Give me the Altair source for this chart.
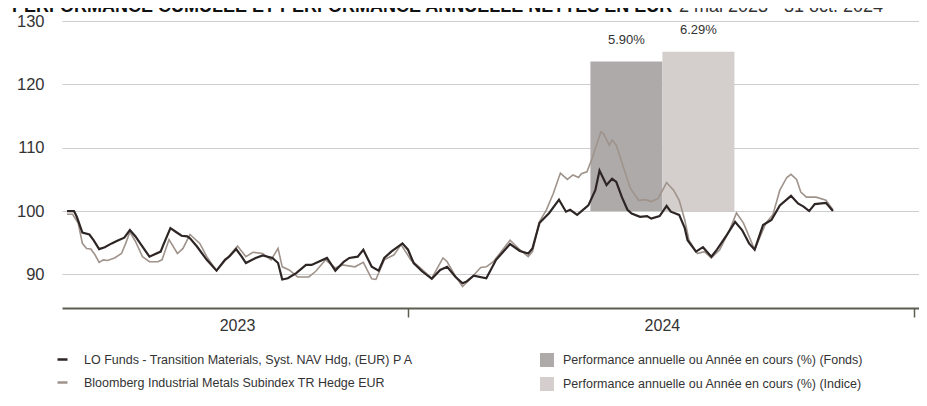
import altair as alt
import pandas as pd

FONT = "Liberation Sans"

FUND_NAME = "LO Funds - Transition Materials, Syst. NAV Hdg, (EUR) P A"
INDEX_NAME = "Bloomberg Industrial Metals Subindex TR Hedge EUR"
BAR_FUND = "Performance annuelle ou Année en cours (%) (Fonds)"
BAR_INDEX = "Performance annuelle ou Année en cours (%) (Indice)"
TITLE_BOLD = "PERFORMANCE CUMULÉE ET PERFORMANCE ANNUELLE NETTES EN EUR"
TITLE_DATES = "2 mai 2023 - 31 oct. 2024"

fund_dates = [
    "2023-05-02", "2023-05-07", "2023-05-09", "2023-05-13", "2023-05-18", "2023-05-21",
    "2023-05-25", "2023-05-29", "2023-06-03", "2023-06-07", "2023-06-12", "2023-06-16",
    "2023-06-20", "2023-06-24", "2023-06-30", "2023-07-03", "2023-07-08", "2023-07-10",
    "2023-07-15", "2023-07-19", "2023-07-23", "2023-07-27", "2023-07-29", "2023-08-03",
    "2023-08-10", "2023-08-17", "2023-08-23", "2023-08-26", "2023-08-31", "2023-09-04",
    "2023-09-07", "2023-09-14", "2023-09-19", "2023-09-26", "2023-09-30", "2023-10-03",
    "2023-10-07", "2023-10-13", "2023-10-20", "2023-10-24", "2023-10-29", "2023-11-04",
    "2023-11-10", "2023-11-16", "2023-11-20", "2023-11-26", "2023-11-30", "2023-12-06",
    "2023-12-11", "2023-12-15", "2023-12-20", "2023-12-28", "2024-01-01", "2024-01-05",
    "2024-01-11", "2024-01-18", "2024-01-24", "2024-01-29", "2024-02-04", "2024-02-09",
    "2024-02-12", "2024-02-17", "2024-02-26", "2024-03-04", "2024-03-14", "2024-03-21",
    "2024-03-27", "2024-03-30", "2024-04-04", "2024-04-11", "2024-04-18", "2024-04-23",
    "2024-04-26", "2024-05-01", "2024-05-09", "2024-05-14", "2024-05-17", "2024-05-22",
    "2024-05-26", "2024-05-29", "2024-06-02", "2024-06-06", "2024-06-09", "2024-06-15",
    "2024-06-20", "2024-06-23", "2024-06-29", "2024-07-04", "2024-07-07", "2024-07-13",
    "2024-07-17", "2024-07-19", "2024-07-25", "2024-07-30", "2024-08-05", "2024-08-09",
    "2024-08-16", "2024-08-22", "2024-08-27", "2024-09-01", "2024-09-05", "2024-09-11",
    "2024-09-17", "2024-09-23", "2024-10-01", "2024-10-06", "2024-10-10", "2024-10-14",
    "2024-10-18", "2024-10-26", "2024-10-31",
]
fund_values = [
    100.0, 100.0, 99.1, 96.6, 96.3, 95.4,
    94.0, 94.3, 94.9, 95.3, 95.8, 97.0,
    96.0, 94.7, 92.8, 93.1, 93.6, 94.7,
    97.3, 96.7, 96.1, 96.0, 95.7, 94.4,
    92.3, 90.6, 92.3, 92.8, 94.0, 92.8,
    91.8, 92.6, 93.0, 92.6, 91.8, 89.2,
    89.4, 90.2, 91.5, 91.5, 92.0, 92.6,
    90.6, 92.0, 92.6, 92.8, 93.9, 91.2,
    90.6, 92.6, 93.6, 94.9, 93.9, 91.8,
    90.5, 89.3, 90.7, 91.2, 89.6, 88.6,
    88.9, 89.8, 89.4, 92.3, 94.8, 93.7,
    93.3, 94.1, 98.1, 99.7, 101.8, 99.9,
    100.2, 99.4, 100.9, 103.3, 106.4, 104.1,
    105.1, 104.6, 102.2, 100.2, 99.6, 99.1,
    99.2, 98.8, 99.2, 100.8, 99.9, 99.4,
    97.3, 95.4, 93.6, 94.3, 92.8, 93.9,
    96.2, 98.3, 97.0, 94.9, 93.9, 97.8,
    98.6, 100.9, 102.4, 101.2, 100.7, 100.0,
    101.1, 101.3, 100.0,
]

index_dates = [
    "2023-05-02", "2023-05-06", "2023-05-10", "2023-05-13", "2023-05-16", "2023-05-19",
    "2023-05-22", "2023-05-25", "2023-05-28", "2023-05-31", "2023-06-05", "2023-06-10",
    "2023-06-13", "2023-06-16", "2023-06-20", "2023-06-25", "2023-06-30", "2023-07-06",
    "2023-07-09", "2023-07-14", "2023-07-20", "2023-07-24", "2023-07-29", "2023-08-05",
    "2023-08-10", "2023-08-17", "2023-08-24", "2023-09-01", "2023-09-07", "2023-09-12",
    "2023-09-19", "2023-09-25", "2023-09-30", "2023-10-03", "2023-10-08", "2023-10-14",
    "2023-10-22", "2023-10-27", "2023-11-03", "2023-11-10", "2023-11-15", "2023-11-24",
    "2023-11-30", "2023-12-06", "2023-12-09", "2023-12-15", "2023-12-22", "2023-12-27",
    "2024-01-03", "2024-01-10", "2024-01-18", "2024-01-26", "2024-01-29", "2024-02-04",
    "2024-02-09", "2024-02-15", "2024-02-22", "2024-02-26", "2024-03-02", "2024-03-14",
    "2024-03-21", "2024-03-27", "2024-03-30", "2024-04-04", "2024-04-09", "2024-04-14",
    "2024-04-19", "2024-04-24", "2024-04-28", "2024-05-02", "2024-05-04", "2024-05-08",
    "2024-05-12", "2024-05-18", "2024-05-20", "2024-05-24", "2024-05-26", "2024-05-29",
    "2024-06-03", "2024-06-08", "2024-06-14", "2024-06-19", "2024-06-23", "2024-06-28",
    "2024-07-04", "2024-07-09", "2024-07-13", "2024-07-17", "2024-07-20", "2024-07-26",
    "2024-07-31", "2024-08-05", "2024-08-11", "2024-08-18", "2024-08-23", "2024-08-28",
    "2024-09-01", "2024-09-05", "2024-09-13", "2024-09-18", "2024-09-23", "2024-09-28",
    "2024-10-01", "2024-10-05", "2024-10-08", "2024-10-12", "2024-10-19", "2024-10-26",
    "2024-10-31",
]
index_values = [
    99.5, 99.5, 98.1, 94.9, 94.1, 94.0,
    93.1, 91.9, 92.3, 92.2, 92.6, 93.3,
    94.9, 96.7, 95.2, 92.8, 92.0, 92.0,
    92.3, 95.5, 93.3, 94.1, 96.3, 94.9,
    92.8, 90.6, 92.4, 94.5, 92.8, 93.5,
    93.3, 92.3, 94.1, 91.2, 90.7, 89.6,
    89.6, 90.5, 92.3, 91.0, 91.5, 91.2,
    91.9, 89.3, 89.2, 92.3, 93.1, 94.7,
    92.3, 91.0, 89.4, 92.6, 92.0, 89.7,
    88.1, 89.4, 91.1, 91.2, 92.0, 95.4,
    93.9, 92.8, 93.6, 98.3, 100.2, 102.8,
    106.0, 105.0, 105.7, 105.3, 105.9, 106.2,
    108.5, 112.5, 112.2, 110.4, 111.2, 110.4,
    107.0, 103.6, 101.7, 101.8, 101.5, 102.0,
    104.5, 103.3, 101.7, 98.6, 95.4, 93.3,
    93.6, 92.6, 93.9, 97.0, 99.7, 98.1,
    96.0, 93.9, 98.1, 99.4, 103.3, 105.3,
    105.8, 105.0, 103.0, 102.2, 102.2, 101.7,
    100.2,
]

bar_series = [BAR_FUND, BAR_INDEX]
bar_values = [5.90, 6.29]
bar_labels = ["5.90%", "6.29%"]
bar_year_anchor = "2024-07-01"

year_labels = ["2023", "2024"]
year_label_dates = ["2023-09-01", "2024-07-01"]

y_ticks = [90, 100, 110, 120, 130]

# ---------------------------------------------------------------- layout
W, H = 857, 287
FUND_COLOR = "#2e2525"
INDEX_COLOR = "#9f938b"
BAR_COLORS = ["#aeaaa9", "#d4cfcc"]
TEXT = "#333333"

lines_df = pd.concat([
    pd.DataFrame({"date": index_dates, "value": index_values, "series": INDEX_NAME}),
    pd.DataFrame({"date": fund_dates, "value": fund_values, "series": FUND_NAME}),
])
bars_df = pd.DataFrame({"series": bar_series, "pct": bar_values, "label": bar_labels,
                        "date": bar_year_anchor})
years_df = pd.DataFrame({"date": year_label_dates, "label": year_labels})

x_end = alt.DateTime(year=2024, month=12, date=28, utc=True)
x_scale = alt.Scale(type="utc",
                    domain=[alt.DateTime(year=2023, month=5, date=2, utc=True), x_end])
x_axis = alt.Axis(values=[alt.DateTime(year=2024, month=1, date=1, utc=True), x_end],
                  labels=False, grid=False, title=None, domainColor="#5d5d50",
                  domainWidth=2, tickColor="#5d5d50", tickWidth=1.5, tickSize=9)
X = alt.X("date:T", scale=x_scale, axis=x_axis)

bar_y = alt.Scale(domain=[-3.825, 7.5], nice=False, zero=False)

LEG_Y = 332
LEG_ROWPAD = 10
fill_scale = alt.Scale(domain=bar_series, range=BAR_COLORS)
bar_legend = alt.Legend(title=None, orient="none", legendX=478, legendY=LEG_Y,
                        symbolType="square", symbolSize=196, symbolStrokeWidth=0,
                        labelFont=FONT, labelFontSize=12.5, labelColor=TEXT,
                        labelLimit=0, rowPadding=LEG_ROWPAD, labelOffset=9)

base_bars = alt.Chart(bars_df)


def bar_layer(name, offset):
    src = base_bars.transform_filter(alt.datum.series == name)
    bar = src.mark_bar(width=72).encode(
        x=X, y=alt.Y("pct:Q", scale=bar_y, axis=None),
        xOffset=alt.value(offset),
        fill=alt.Fill("series:N", scale=fill_scale, legend=bar_legend),
    )
    lab = src.mark_text(font=FONT, fontSize=13, color=TEXT,
                        baseline="alphabetic", dy=-18).encode(
        x=X, y=alt.Y("pct:Q", scale=bar_y, axis=None),
        xOffset=alt.value(offset), text="label:N")
    return bar, lab


bf, lf = bar_layer(BAR_FUND, -36)
bi, li = bar_layer(BAR_INDEX, 36)
bars_group = alt.layer(bf, bi, lf, li)

color_scale = alt.Scale(domain=[FUND_NAME, INDEX_NAME], range=[FUND_COLOR, INDEX_COLOR])
line_legend = alt.Legend(title=None, orient="none", legendX=-6, legendY=LEG_Y,
                         symbolType="stroke", symbolSize=100, symbolStrokeWidth=2.5,
                         labelFont=FONT, labelFontSize=12.5, labelColor=TEXT,
                         labelLimit=0, rowPadding=LEG_ROWPAD, labelOffset=15)
line_y = alt.Scale(domain=[84.7, 130], nice=False, zero=False)
y_axis = alt.Axis(orient="left", values=y_ticks, title=None, domain=False, ticks=False,
                  labelPadding=18, labelFont=FONT, labelFontSize=16.5, labelColor=TEXT,
                  grid=True, gridColor="#cdcdcd", gridWidth=1)

line_base = alt.Chart(lines_df)
index_line = line_base.transform_filter(alt.datum.series == INDEX_NAME).mark_line(
    strokeWidth=1.6).encode(
    x=X, y=alt.Y("value:Q", scale=line_y, axis=y_axis),
    color=alt.Color("series:N", scale=color_scale, legend=line_legend))
fund_line = line_base.transform_filter(alt.datum.series == FUND_NAME).mark_line(
    strokeWidth=2.2).encode(
    x=X, y=alt.Y("value:Q", scale=line_y, axis=y_axis),
    color=alt.Color("series:N", scale=color_scale, legend=line_legend))

year_text = alt.Chart(years_df).mark_text(
    font=FONT, fontSize=16, color=TEXT, baseline="middle").encode(
    x=X, y=alt.value(H + 18), text="label:N")

one = pd.DataFrame({"a": [0]})
title_bold = alt.Chart(one).mark_text(
    text=TITLE_BOLD, font=FONT, fontSize=18, fontWeight="bold", color="#111111",
    align="left", baseline="alphabetic").encode(x=alt.value(-50), y=alt.value(-9))
title_dates = alt.Chart(one).mark_text(
    text=TITLE_DATES, font=FONT, fontSize=18, color="#333333",
    align="left", baseline="alphabetic").encode(x=alt.value(617), y=alt.value(-9))

lines_group = alt.layer(index_line, fund_line, year_text, title_bold, title_dates)

chart = alt.layer(bars_group, lines_group).resolve_scale(
    y="independent", color="independent", fill="independent"
).properties(
    width=W, height=H,
    autosize=alt.AutoSizeParams(type="none"),
    padding={"left": 54, "top": 13, "right": 0, "bottom": 84},
).configure_view(stroke=None)

chart.save("out.html", embed_options={"renderer": "svg", "actions": False})
